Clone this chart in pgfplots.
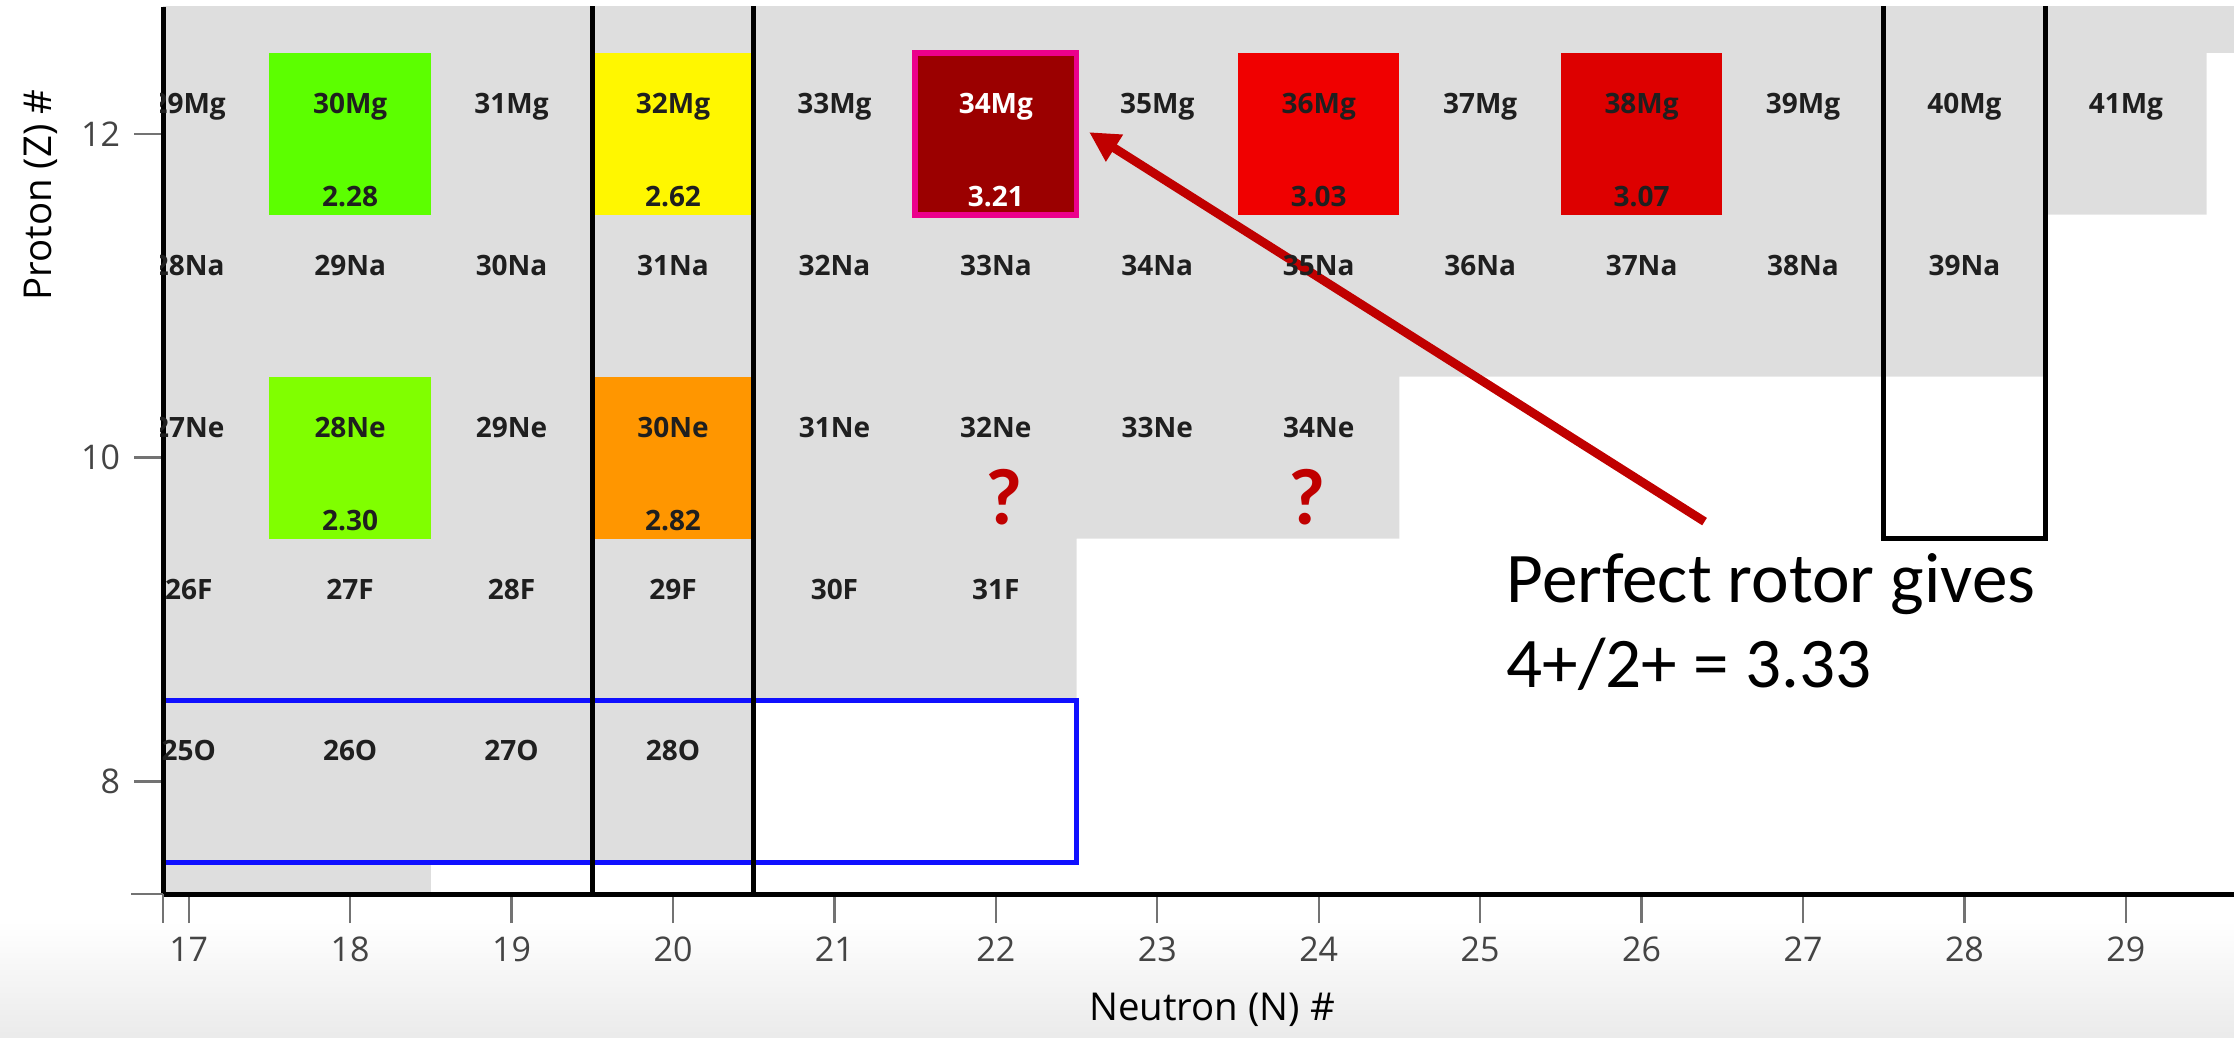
\documentclass[border=0pt]{standalone}
\usepackage{pgfplots}
\pgfplotsset{compat=1.18}
\usepackage{pgfplotstable}
\usepackage{fontspec}
\setmainfont{Open Sans}
\newfontfamily\calfont{Carlito}
\usetikzlibrary{arrows.meta}

\definecolor{cellgray}{HTML}{DEDEDE}
\definecolor{cgreen}{HTML}{5CFF00}
\definecolor{cyellow}{HTML}{FFF700}
\definecolor{cdark}{HTML}{9B0000}
\definecolor{cred1}{HTML}{F00000}
\definecolor{cred2}{HTML}{DD0000}
\definecolor{clime}{HTML}{80FF00}
\definecolor{corange}{HTML}{FF9600}
\definecolor{arrowred}{HTML}{C00000}
\definecolor{tickgray}{HTML}{444444}
\definecolor{cblue}{HTML}{1010FF}

\pgfplotstableread{
N Z L
17 12 29Mg
18 12 30Mg
19 12 31Mg
20 12 32Mg
21 12 33Mg
23 12 35Mg
24 12 36Mg
25 12 37Mg
26 12 38Mg
27 12 39Mg
28 12 40Mg
29 12 41Mg
17 11 28Na
18 11 29Na
19 11 30Na
20 11 31Na
21 11 32Na
22 11 33Na
23 11 34Na
24 11 35Na
25 11 36Na
26 11 37Na
27 11 38Na
28 11 39Na
17 10 27Ne
18 10 28Ne
19 10 29Ne
20 10 30Ne
21 10 31Ne
22 10 32Ne
23 10 33Ne
24 10 34Ne
17 9 26F
18 9 27F
19 9 28F
20 9 29F
21 9 30F
22 9 31F
17 8 25O
18 8 26O
19 8 27O
20 8 28O
}\names

\pgfplotstableread{
N Z V
18 12 2.28
20 12 2.62
24 12 3.03
26 12 3.07
18 10 2.30
20 10 2.82
}\ratios

\pgfplotstableread{
N Z L V
22 12 34Mg 3.21
}\magtab

\begin{document}
\begin{tikzpicture}
\useasboundingbox (0,0) rectangle (558.5pt,259.25pt);
\shade[top color=white, bottom color=black!8] (0,0) rectangle (558.5pt,29pt);
\begin{axis}[
  at={(40.8pt,35.7pt)}, anchor=south west,
  scale only axis, width=517.7pt, height=221.8pt,
  xmin=16.842, xmax=29.67, ymin=7.304, ymax=12.783,
  axis lines=left, axis line style={-, line width=1.25pt, black},
  axis on top,
  xtick={17,...,29}, ytick={8,10,12},
  tick align=outside, major tick length=7.25pt,
  tick style={color=black!55, line width=0.6pt},
  ticklabel style={font=\fontsize{8.5}{10}\selectfont, text=tickgray},
  /pgf/number format/assume math mode=true,
  xlabel={Neutron (N) \#}, ylabel={Proton (Z) \#},
  label style={font=\fontsize{9.6}{11}\selectfont},
  xlabel style={at={(axis description cs:0.5065,-0.1306)}, anchor=center},
  ylabel style={at={(axis description cs:-0.0591,0.788)}, anchor=center},
]
% chart of nuclides background
\addplot[fill=cellgray, draw=none] coordinates {(16,6.5) (18.5,6.5) (18.5,7.5) (20.5,7.5) (20.5,8.5) (22.5,8.5) (22.5,9.5) (24.5,9.5) (24.5,10.5) (28.5,10.5) (28.5,11.5) (29.5,11.5) (29.5,12.5) (31,12.5) (31,14) (16,14)} -- cycle;
% coloured cells (E(4+)/E(2+))
\addplot[fill=cgreen, draw=none] coordinates {(17.5,11.5) (18.5,11.5) (18.5,12.5) (17.5,12.5)} -- cycle;
\addplot[fill=cyellow, draw=none] coordinates {(19.5,11.5) (20.5,11.5) (20.5,12.5) (19.5,12.5)} -- cycle;
\addplot[fill=cdark, draw=none] coordinates {(21.5,11.5) (22.5,11.5) (22.5,12.5) (21.5,12.5)} -- cycle;
\addplot[fill=cred1, draw=none] coordinates {(23.5,11.5) (24.5,11.5) (24.5,12.5) (23.5,12.5)} -- cycle;
\addplot[fill=cred2, draw=none] coordinates {(25.5,11.5) (26.5,11.5) (26.5,12.5) (25.5,12.5)} -- cycle;
\addplot[fill=clime, draw=none] coordinates {(17.5,9.5) (18.5,9.5) (18.5,10.5) (17.5,10.5)} -- cycle;
\addplot[fill=corange, draw=none] coordinates {(19.5,9.5) (20.5,9.5) (20.5,10.5) (19.5,10.5)} -- cycle;
% magenta border
\addplot[draw=magenta, line width=1.4pt] coordinates {(21.5,11.5) (22.5,11.5) (22.5,12.5) (21.5,12.5)} -- cycle;
% labels
\addplot[draw=none, mark=none, nodes near coords, point meta=explicit symbolic,
  nodes near coords style={anchor=base, inner sep=0pt, font=\fontsize{7}{8}\selectfont\bfseries, text=black!88}]
  table[x=N, y expr=\thisrow{Z}+0.127, meta=L] {\names};
\addplot[draw=none, mark=none, nodes near coords, point meta=explicit symbolic,
  nodes near coords style={anchor=base, inner sep=0pt, font=\fontsize{7}{8}\selectfont\bfseries, text=black!88}]
  table[x=N, y expr=\thisrow{Z}-0.449, meta=V] {\ratios};
\addplot[draw=none, mark=none, nodes near coords, point meta=explicit symbolic,
  nodes near coords style={anchor=base, inner sep=0pt, font=\fontsize{7}{8}\selectfont\bfseries, text=white}]
  table[x=N, y expr=\thisrow{Z}+0.127, meta=L] {\magtab};
\addplot[draw=none, mark=none, nodes near coords, point meta=explicit symbolic,
  nodes near coords style={anchor=base, inner sep=0pt, font=\fontsize{7}{8}\selectfont\bfseries, text=white}]
  table[x=N, y expr=\thisrow{Z}-0.449, meta=V] {\magtab};
% O isotope box (blue)
\addplot[draw=cblue, line width=1.1pt] coordinates {(16,8.5) (22.5,8.5) (22.5,7.5) (16,7.5)};
% magic number lines
\addplot[black, line width=1.25pt] coordinates {(19.5,6) (19.5,14)};
\addplot[black, line width=1.25pt] coordinates {(20.5,6) (20.5,14)};
\addplot[black, line width=1.25pt] coordinates {(27.5,14) (27.5,9.5) (28.5,9.5) (28.5,14)};
% question marks
\node[anchor=base, inner sep=0pt, text=arrowred, font=\calfont\bfseries\fontsize{20}{24}\selectfont] at (axis cs:22.05,9.587) {?};
\node[anchor=base, inner sep=0pt, text=arrowred, font=\calfont\bfseries\fontsize{20}{24}\selectfont] at (axis cs:23.93,9.587) {?};
% arrow and annotation
\addplot[arrowred, line width=2.2pt, -{Triangle[length=7.5pt,width=7.5pt]}] coordinates {(26.39,9.605) (22.578,12.01)};
\node[anchor=base west, inner sep=0pt, font=\calfont\fontsize{17.8}{21}\selectfont] at (axis cs:25.16,9.108) {Perfect rotor gives};
\node[anchor=base west, inner sep=0pt, font=\calfont\fontsize{17.8}{21}\selectfont] at (axis cs:25.16,8.582) {4+/2+ = 3.33};
\end{axis}
% hide the parts of the edge cell labels that fall left of the plot area
\fill[white] (32pt,228.6pt) rectangle (40.1pt,237.8pt);
\fill[white] (32pt,188.1pt) rectangle (40.1pt,197.3pt);
\fill[white] (32pt,147.6pt) rectangle (40.1pt,156.8pt);
\fill[white] (32pt,107.2pt) rectangle (40.1pt,116.4pt);
\fill[white] (32pt,66.7pt) rectangle (40.1pt,75.9pt);
\draw[black!55, line width=0.6pt] (40.8pt,35.7pt) -- ++(-8pt,0pt);
\draw[black!55, line width=0.6pt] (40.8pt,35.7pt) -- ++(0pt,-7.25pt);
\end{tikzpicture}
\end{document}
